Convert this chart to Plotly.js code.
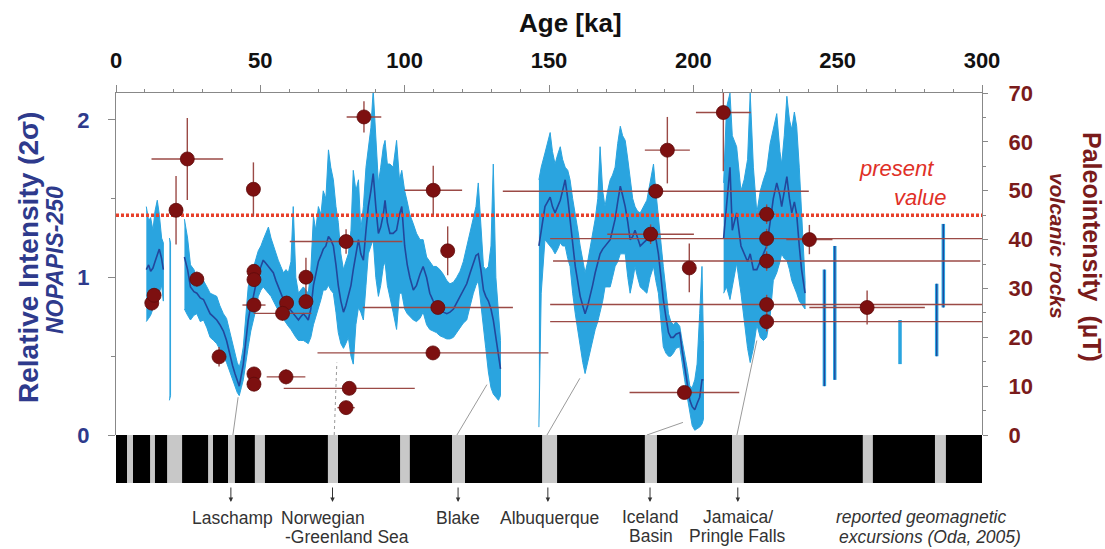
<!DOCTYPE html>
<html><head><meta charset="utf-8">
<script src="https://cdn.plot.ly/plotly-3.0.1.min.js"></script>
<style>html,body{margin:0;padding:0;background:#fff}#chart{width:1105px;height:549px}</style>
</head><body><div id="chart"></div>
<script>
// ---- Relative intensity (NOPAPIS-250): age [ka], upper/lower envelope, mean; null = gap
const relAge = [10.5,11.3,12.0,12.8,13.5,14.3,15.0,15.8,16.4,null,
 18.5,18.9,null,
 23.7,24.8,25.8,27.0,28.0,29.2,30.3,31.5,32.6,33.8,34.9,36.0,37.2,38.3,39.5,40.4,41.2,42.0,42.7,43.4,44.1,45.0,45.8,46.7,47.6,48.5,49.3,50.2,51.0,51.9,52.8,53.7,54.5,55.4,56.2,57.1,58.0,58.9,59.7,60.6,61.4,62.3,63.2,64.0,64.9,65.8,66.6,67.5,68.4,69.2,70.1,71.0,71.8,72.7,73.6,74.4,75.3,76.2,77.0,77.9,78.8,79.6,80.5,81.4,82.2,83.1,84.0,84.8,85.7,86.6,87.4,88.3,89.1,90.0,90.9,91.7,92.6,93.2,94.0,94.9,96.0,97.2,98.2,99.0,100.0,100.9,101.8,103.0,104.1,105.3,106.4,107.6,108.7,109.9,111.0,112.2,113.4,114.6,115.7,116.9,118.0,119.2,120.3,121.5,122.7,123.8,124.7,125.5,126.4,127.3,128.1,129.0,129.9,130.7,131.6,132.5,133.2,null,
 146.5,147.3,148.6,149.5,150.4,151.2,152.1,153.0,153.9,154.7,155.6,156.5,157.3,158.2,159.1,160.0,160.8,161.7,162.5,163.4,164.3,165.1,166.0,166.9,167.7,168.6,169.4,170.3,171.2,172.0,172.9,173.8,174.7,175.5,176.4,177.3,178.1,179.0,179.8,180.7,181.6,182.7,183.9,185.0,186.2,187.0,187.9,188.8,189.6,190.5,191.4,192.2,193.1,194.0,195.3,196.1,197.0,197.9,198.8,199.6,200.5,201.3,202.2,203.0,203.5,null,
 210.5,211.5,212.7,213.5,215.0,216.5,217.6,218.8,219.7,220.8,222.0,223.2,224.3,225.4,226.6,227.7,228.9,230.0,230.6,231.5,232.4,233.3,234.1,235.0,235.8,236.7,237.5,238.7];
const relUpper = [1.45,1.36,1.38,1.30,1.42,1.49,1.40,1.25,1.22,null,
 1.25,1.22,null,
 1.37,1.25,1.08,1.05,1.00,0.99,0.98,0.94,0.90,0.89,0.88,0.82,0.77,0.74,0.65,0.58,0.52,0.46,0.43,0.48,0.56,0.75,0.94,1.00,1.07,1.12,1.17,1.20,1.24,1.28,1.32,1.25,1.20,1.15,1.11,1.07,1.03,1.05,1.03,1.10,1.45,1.00,0.90,0.92,0.94,0.92,0.90,1.05,1.39,1.30,1.45,1.40,1.55,1.50,1.81,1.70,1.62,1.45,1.35,1.15,1.05,1.10,1.15,1.30,1.68,1.55,1.62,1.30,1.45,1.70,1.83,1.95,2.19,1.90,1.60,1.70,1.83,1.87,1.72,1.72,1.70,1.87,1.62,1.68,1.55,1.48,1.40,1.34,1.28,1.24,1.24,1.13,1.10,1.07,1.07,1.05,1.02,0.98,0.96,0.97,1.00,1.04,1.10,1.20,1.28,1.37,1.45,1.60,1.30,1.07,1.05,1.07,1.20,1.72,1.00,0.77,0.60,null,
 1.62,1.70,1.79,1.85,1.92,1.80,1.72,1.78,1.83,1.75,1.70,1.68,1.62,1.50,1.41,1.30,1.20,1.10,1.03,1.10,1.20,1.28,1.37,1.50,1.83,1.55,1.45,1.55,1.62,1.65,1.70,1.85,1.96,1.90,1.87,1.75,1.62,1.50,1.45,1.42,1.41,1.45,1.49,1.60,1.72,1.55,1.37,1.20,1.07,0.92,0.77,0.72,0.70,0.72,0.69,0.60,0.52,0.42,0.31,0.30,0.35,0.45,0.77,1.07,0.60,null,
 1.60,2.08,2.17,1.90,1.83,1.55,1.62,1.75,2.17,1.70,1.41,1.55,1.62,1.68,1.85,1.95,2.04,1.80,1.72,1.90,2.15,2.00,1.94,2.05,1.96,1.70,1.41,0.98];
const relLower = [0.72,0.74,0.76,0.80,0.82,0.86,0.90,0.95,0.85,null,
 0.22,0.25,null,
 0.80,0.76,0.73,0.76,0.77,0.72,0.73,0.68,0.62,0.60,0.58,0.54,0.50,0.46,0.39,0.35,0.31,0.27,0.25,0.30,0.35,0.45,0.56,0.66,0.73,0.80,0.88,0.92,0.94,0.92,0.90,0.88,0.86,0.82,0.79,0.76,0.73,0.71,0.69,0.67,0.65,0.62,0.60,0.60,0.60,0.59,0.58,0.62,0.70,0.75,0.80,0.86,0.92,0.92,0.95,0.92,0.90,0.78,0.65,0.58,0.55,0.58,0.62,0.50,0.45,0.70,0.81,0.78,0.73,0.95,1.15,1.20,1.24,1.00,0.88,0.95,1.07,1.10,0.95,0.88,0.78,0.67,0.90,0.90,0.80,0.77,0.75,0.73,0.72,0.74,0.78,0.70,0.67,0.66,0.65,0.63,0.62,0.61,0.61,0.62,0.65,0.68,0.71,0.73,0.82,0.90,0.95,0.98,0.85,0.68,0.55,0.40,0.30,0.26,0.24,0.22,0.25,null,
 0.05,0.90,1.24,1.22,1.20,1.18,1.15,1.18,1.22,1.20,1.20,1.12,1.07,0.90,0.77,0.65,0.56,0.46,0.39,0.45,0.52,0.60,0.67,0.72,0.77,0.85,0.94,0.94,0.94,1.00,1.07,1.10,1.15,1.15,1.15,1.00,0.90,0.98,1.07,1.00,0.94,0.92,0.90,1.00,1.07,0.98,0.90,0.72,0.56,0.52,0.50,0.50,0.52,0.55,0.56,0.45,0.35,0.24,0.14,0.06,0.03,0.04,0.05,0.07,0.10,null,
 0.90,0.94,0.86,0.95,1.09,0.90,0.75,0.55,0.46,0.55,0.70,0.62,0.60,0.62,0.75,0.98,1.03,1.10,1.15,1.12,1.11,1.05,0.98,0.94,0.90,0.85,0.83,0.80];
const relMean = [1.05,1.08,1.04,1.06,1.10,1.14,1.18,1.12,1.05,null,
 null,null,null,
 1.13,1.05,0.94,0.91,0.90,0.87,0.86,0.81,0.77,0.75,0.73,0.70,0.66,0.60,0.50,0.44,0.39,0.35,0.31,0.38,0.45,0.60,0.73,0.82,0.88,0.96,1.03,1.07,1.11,1.09,1.07,1.05,1.03,0.98,0.94,0.90,0.86,0.84,0.81,0.79,0.77,0.75,0.73,0.75,0.77,0.75,0.73,0.80,0.95,1.02,1.10,1.14,1.18,1.20,1.26,1.24,1.20,1.08,0.95,0.85,0.78,0.82,0.88,0.95,1.05,1.15,1.24,1.15,1.11,1.30,1.45,1.55,1.66,1.45,1.28,1.32,1.40,1.49,1.35,1.28,1.28,1.30,1.40,1.45,1.20,1.08,1.00,0.92,0.95,1.02,1.07,1.00,0.90,0.85,0.82,0.80,0.78,0.77,0.78,0.80,0.84,0.88,0.92,0.96,1.03,1.10,1.14,1.15,1.05,0.92,0.88,0.85,0.80,0.73,0.62,0.50,0.42,null,
 1.20,1.30,1.45,1.48,1.51,1.45,1.41,1.45,1.49,1.55,1.62,1.50,1.37,1.20,1.07,0.97,0.88,0.82,0.77,0.82,0.88,0.95,1.03,1.10,1.15,1.18,1.20,1.22,1.24,1.30,1.37,1.48,1.58,1.52,1.45,1.35,1.24,1.26,1.30,1.25,1.20,1.22,1.24,1.28,1.32,1.25,1.15,1.00,0.86,0.75,0.65,0.62,0.62,0.64,0.65,0.54,0.43,0.32,0.22,0.18,0.16,0.20,0.24,0.35,0.35,null,
 1.25,1.45,1.70,1.30,1.41,1.20,1.15,1.10,1.15,1.05,1.05,1.10,1.15,1.20,1.35,1.50,1.60,1.52,1.45,1.55,1.64,1.50,1.41,1.48,1.40,1.20,1.05,0.90];

// isolated short records (age, low, high)
const spikeAge = [245.4, 249.0, 271.6, 284.3, 286.6];
const spikeLo  = [0.31, 0.35, 0.45, 0.50, 0.81];
const spikeHi  = [1.05, 1.20, 0.73, 0.96, 1.34];

// ---- Paleointensity, volcanic rocks (µT)
const ptAge = [12.4,13.2,20.8,24.7,28.0,35.7,47.6,47.8,47.8,47.8,47.8,47.8,59.1,57.7,58.9,65.8,65.8,85.9,79.7,80.8,79.7,109.9,114.9,111.5,109.8,187.0,191.0,210.4,185.2,198.6,196.9,225.4,225.4,225.4,225.4,225.4,240.2,260.2];
const ptVal = [27.0,28.6,46.0,56.5,31.9,16.0,50.3,33.5,31.8,26.6,12.5,10.4,27.0,24.9,11.9,32.3,27.3,65.1,39.6,9.55,5.6,50.1,37.7,26.1,16.8,49.9,58.3,66.0,41.1,34.2,8.7,45.2,40.2,35.6,26.7,23.2,40.0,26.1];
const ptAgeErr = [1,1,1.5,12.4,1.5,1.5,1.5,1.5,1.5,4,1.5,2,1,10,6.7,1.5,1.5,6,19.5,22.7,3,10,1.5,26,40,53,7.8,9.5,15,1.5,19,3,75,74,75,75,8,20];
const ptValErr = [1.5,1.5,7,8.4,1.5,2,5.5,1,1,1,1,1,1.5,1.5,1.5,4,1.5,3.2,2.5,1,1,5,5,1,1,1,6.8,12,2,5,1,2,2,2,2,2,3,3.5];
const presentValue = 45;

// ---- Reported geomagnetic excursions (Oda, 2005)
const stripeStart = [3.8,11.8,17.7,31.9,38.8,48.1,73.4,98.4,116.4,147.6,183.2,213.4,258.7,283.7];
const stripeEnd   = [5.9,13.5,22.9,33.6,41.2,51.6,76.9,101.8,120.9,152.8,187.4,217.5,262.2,287.5];
const excAge  = [39.8, 75.0, 118.5, 149.6, 185.0, 215.4];
const connBaseAge = [40.5, 75.6, 118.1, 149.3, 183.9, 215.1];
const connTopAge  = [42.3, 76.5, 128.5, 160.7, 196.4, 222.0];
const connTopVal  = [0.24, 0.46, 0.32, 0.36, 0.08, 0.60];

const xTicks = [0,50,100,150,200,250,300];
const yTicks = [0,1,2];
const y2Ticks = [0,10,20,30,40,50,60,70];

// ---------- build ----------
const LIGHT = '#2aa4df', DARK = '#22479c', BLUE_T = '#2e3a8c', RED_T = '#7a1b1b';
const FONT = 'Liberation Sans, Arial, sans-serif';
const traces = [];
let seg = {a:[],u:[],l:[]}; const segs = [];
for (let i = 0; i <= relAge.length; i++) {
  if (i === relAge.length || relAge[i] === null) { if (seg.a.length) segs.push(seg); seg = {a:[],u:[],l:[]}; continue; }
  seg.a.push(relAge[i]); seg.u.push(relUpper[i]); seg.l.push(relLower[i]);
}
segs.forEach(s => {
  traces.push({x: s.a.concat(s.a.slice().reverse()), y: s.u.concat(s.l.slice().reverse()),
    type:'scatter', mode:'lines', fill:'toself', fillcolor: LIGHT, line:{color: LIGHT, width:1}, hoverinfo:'skip', showlegend:false});
});
const sx = [], sy = [], dx = [], dy = [];
spikeAge.forEach((a,i) => {
  sx.push(a,a,null); sy.push(spikeLo[i], spikeHi[i], null);
  if (i !== 2) { dx.push(a,a,null); dy.push(spikeLo[i], spikeHi[i], null); }
});
traces.push({x:sx, y:sy, type:'scatter', mode:'lines', line:{color:LIGHT, width:3.5}, connectgaps:false, showlegend:false, hoverinfo:'skip'});
traces.push({x:dx, y:dy, type:'scatter', mode:'lines', line:{color:DARK, width:1.3}, connectgaps:false, showlegend:false, hoverinfo:'skip'});
traces.push({x: relAge, y: relMean, type:'scatter', mode:'lines', line:{color:DARK, width:1.6}, connectgaps:false, showlegend:false, hoverinfo:'skip'});
traces.push({x:[0,300], y:[presentValue,presentValue], yaxis:'y2', type:'scatter', mode:'lines',
  line:{color:'#e8402a', width:3.5, dash:'3px,2px'}, showlegend:false, hoverinfo:'skip'});
traces.push({x: ptAge, y: ptVal, yaxis:'y2', type:'scatter', mode:'markers',
  marker:{size:14, color:'#7d1010', line:{color:'#5e0b0b', width:0.8}},
  error_x:{type:'data', array: ptAgeErr, color:'#9b4a46', thickness:1.4, width:0},
  error_y:{type:'data', array: ptValErr, color:'#9b4a46', thickness:1.4, width:0},
  showlegend:false, hoverinfo:'skip'});

const H = 549, T = 93, B = 66, PH = H - T - B;
const py = p => (H - B - p) / PH;
const bandTop = 48 / PH;

const shapes = [{type:'rect', xref:'x', yref:'paper', x0:0, x1:300, y0:0, y1:bandTop, fillcolor:'#000', line:{width:0}, layer:'above'}];
stripeStart.forEach((s,i) => shapes.push({type:'rect', xref:'x', yref:'paper', x0:s, x1:stripeEnd[i], y0:0, y1:bandTop, fillcolor:'#c8c8c8', line:{width:0}, layer:'above'}));
connBaseAge.forEach((a,i) => shapes.push({type:'line', xref:'x', yref:'y', x0:a, y0:0, x1:connTopAge[i], y1:connTopVal[i],
  line:{color:'#9a9a9a', width:1, dash: i===1 ? 'dot' : 'solid'}, layer:'above'}));

const annotations = [];
const lab = (text, x, y, xref, opts) => annotations.push(Object.assign({text, x, y, xref, yref:'paper', showarrow:false, xanchor:'center', yanchor:'middle',
  font:{family:FONT, size:17.5, color:'#333'}}, opts||{}));
excAge.forEach(a => {
  annotations.push({x:a, y:py(502), xref:'x', yref:'paper', text:'', showarrow:true, ax:0, ay:-16, arrowhead:2, arrowsize:0.9, arrowwidth:1, arrowcolor:'#333'});
});
lab('Laschamp', 40.5, py(518), 'x');
lab('Norwegian', 71.7, py(518), 'x');
lab('-Greenland Sea', 80.0, py(537), 'x');
lab('Blake', 118.5, py(518), 'x');
lab('Albuquerque', 150.0, py(518), 'x');
lab('Iceland', 185.0, py(517), 'x');
lab('Basin', 185.3, py(536), 'x');
lab('Jamaica/', 215.4, py(517), 'x');
lab('Pringle Falls', 215.4, py(536), 'x');
lab('<i>reported geomagnetic</i>', 278.8, py(517), 'x');
lab('<i>excursions (Oda, 2005)</i>', 282.0, py(537), 'x');
lab('<i>present</i>', 270.5, py(168), 'x', {font:{family:FONT, size:22, color:'#e03027'}});
lab('<i>value</i>', 278.8, py(197), 'x', {font:{family:FONT, size:22, color:'#e03027'}});
lab('<b>Age [ka]</b>', 0.5254, py(23), 'paper', {font:{family:FONT, size:26, color:'#111'}});
lab('<b>Relative Intensity (2σ)</b>', -0.1016, py(258), 'paper', {textangle:-90, font:{family:FONT, size:28, color:BLUE_T}});
lab('<b><i>NOPAPIS-250</i></b>', -0.0704, py(260), 'paper', {textangle:-90, font:{family:FONT, size:23, color:BLUE_T}});
lab('<b>Paleointensity  (µT)</b>', 1.127, py(247), 'paper', {textangle:90, font:{family:FONT, size:25, color:RED_T}});
lab('<b><i>volcanic rocks</i></b>', 1.088, py(246), 'paper', {textangle:90, font:{family:FONT, size:21, color:RED_T}});

const layout = {
  width:1105, height:549, margin:{l:116, r:123, t:T, b:B, pad:0},
  paper_bgcolor:'#fff', plot_bgcolor:'#fff', font:{family:FONT},
  xaxis:{range:[0,300], side:'top', anchor:'y', tickvals:xTicks, ticks:'outside', ticklen:7, tickcolor:'#888', tickwidth:1,
    minor:{dtick:10, ticks:'outside', ticklen:3, tickcolor:'#888'},
    showline:true, linecolor:'#888', linewidth:1, showgrid:false, zeroline:false, ticklabelstandoff:8,
    tickfont:{family:FONT, size:22, weight:'bold', color:'#111'}},
  yaxis:{range:[0,2.171], domain:[bandTop,1], tickvals:yTicks, ticks:'outside', ticklen:7, tickcolor:'#888',
    minor:{dtick:0.5, ticks:'outside', ticklen:4, tickcolor:'#888'},
    showline:true, linecolor:'#888', showgrid:false, zeroline:false, ticklabelstandoff:14,
    tickfont:{family:FONT, size:22, weight:'bold', color:BLUE_T}},
  yaxis2:{range:[0,70], domain:[bandTop,1], overlaying:'y', side:'right', anchor:'x', tickvals:y2Ticks, ticks:'outside', ticklen:5, tickcolor:'#888',
    minor:{dtick:5, ticks:'outside', ticklen:3, tickcolor:'#888'},
    showline:true, linecolor:'#888', showgrid:false, zeroline:false, ticklabelstandoff:16,
    tickfont:{family:FONT, size:22, weight:'bold', color:RED_T}},
  shapes, annotations, showlegend:false
};
Plotly.newPlot('chart', traces, layout, {staticPlot:true, displayModeBar:false});
</script></body></html>
